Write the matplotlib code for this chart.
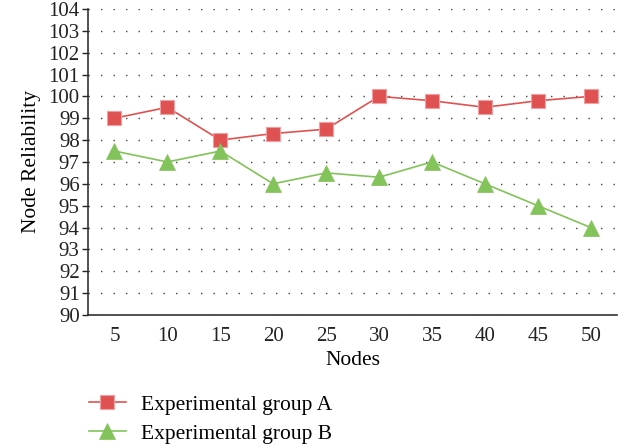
import matplotlib.pyplot as plt
from matplotlib.lines import Line2D

plt.rcParams['font.family'] = ['Liberation Serif', 'DejaVu Serif']

# Node counts and reliability for both groups
nodes = [5, 10, 15, 20, 25, 30, 35, 40, 45, 50]
group_a = [99, 99.5, 98, 98.3, 98.5, 100, 99.8, 99.5, 99.8, 100]
group_b = [97.5, 97, 97.5, 96, 96.5, 96.3, 97, 96, 95, 94]
y_ticks = list(range(90, 105))

red = '#e05252'
green = '#82c35a'

fig = plt.figure(figsize=(6.33, 4.48), dpi=100)
ax = fig.add_axes([0.139, 0.297, 0.836, 0.683])

ax.plot(nodes, group_a, color=red, lw=1.2, marker='s', ms=10,
        mec='#f0a0a0', mew=0.8, label='Experimental group A', zorder=3)
ax.plot(nodes, group_b, color=green, lw=1.2, marker='^', ms=11,
        mec=green, mew=0.5, label='Experimental group B', zorder=3)

ax.set_xlim(2.5, 52.5)
ax.set_ylim(90, 104)
ax.set_xticks(nodes)
ax.set_yticks(y_ticks)
ax.tick_params(axis='both', labelsize=15, colors='#222222')
ax.tick_params(axis='x', length=0, pad=9)
ax.tick_params(axis='y', length=4, width=1, pad=2)

ax.yaxis.grid(True, linestyle=(0, (1, 8)), color='#444444', lw=1)
ax.set_axisbelow(True)
for s in ['top', 'right']:
    ax.spines[s].set_visible(False)
for s in ['left', 'bottom']:
    ax.spines[s].set_linewidth(1.2)
    ax.spines[s].set_color('#333333')

ax.set_xlabel('Nodes', fontsize=15.5, labelpad=3)
ax.set_ylabel('Node Reliability', fontsize=15.5, labelpad=5)

handles = [Line2D([], [], color=red, lw=1.2, marker='s', ms=10, mec='#f0a0a0', mew=0.8),
           Line2D([], [], color=green, lw=1.2, marker='^', ms=11, mec=green, mew=0.5)]
fig.legend(handles, ['Experimental group A', 'Experimental group B'],
           loc='upper left', bbox_to_anchor=(0.140, 0.119), frameon=False,
           fontsize=15.5, handlelength=1.75, handletextpad=0.7, labelspacing=0.42,
           borderaxespad=0, borderpad=0)

fig.savefig('out.png', dpi=100)
